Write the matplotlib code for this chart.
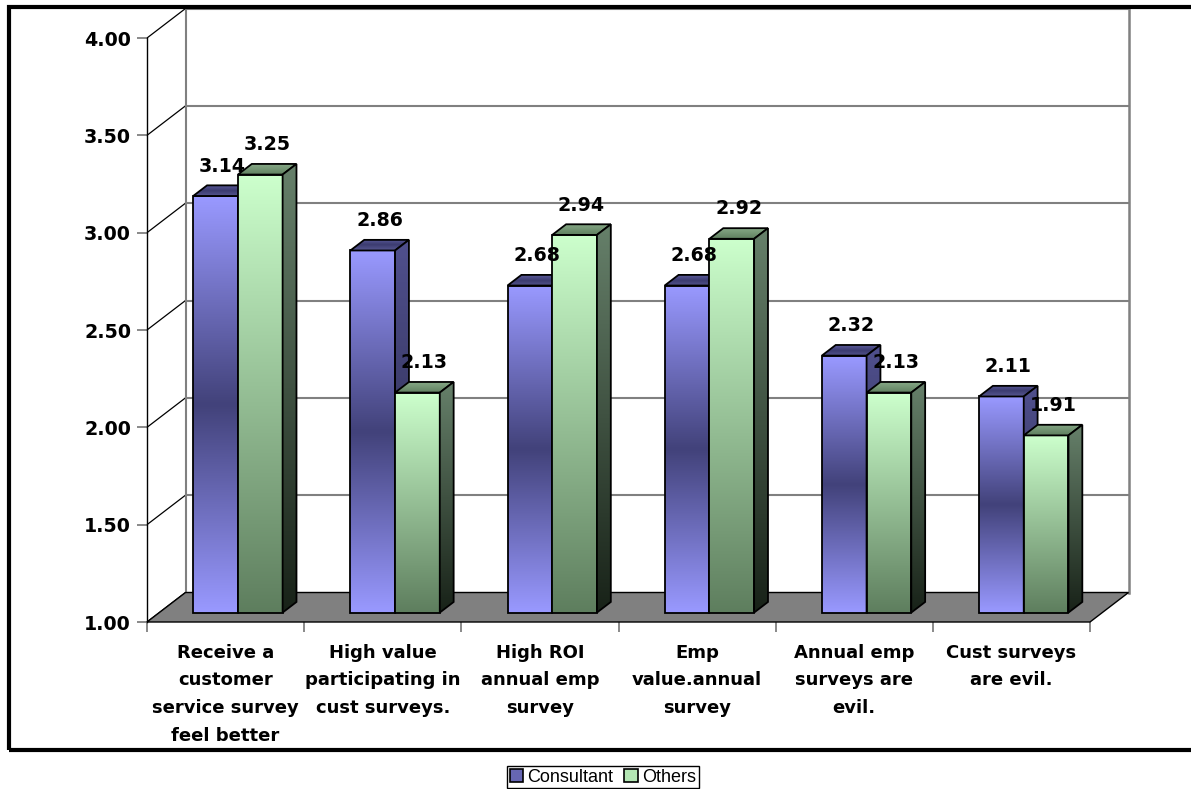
import numpy as np
from matplotlib import pyplot as plt
from matplotlib.patches import Polygon, Patch, Rectangle
from matplotlib.colors import to_rgb

# ---------------- data ----------------
categories = [
    "Receive a\ncustomer\nservice survey\nfeel better",
    "High value\nparticipating in\ncust surveys.",
    "High ROI\nannual emp\nsurvey",
    "Emp\nvalue.annual\nsurvey",
    "Annual emp\nsurveys are\nevil.",
    "Cust surveys\nare evil.",
]
consultant = [3.14, 2.86, 2.68, 2.68, 2.32, 2.11]
others = [3.25, 2.13, 2.94, 2.92, 2.13, 1.91]
series_names = ["Consultant", "Others"]
y_ticks = [1.00, 1.50, 2.00, 2.50, 3.00, 3.50, 4.00]

# depth vector of the fake 3d box, in data units (x per category, y per value)
DX = 0.245
DY = 0.1515
Z0, Z1 = 0.32, 0.68   # bar front / back depth
BW = 0.2845          # bar width

zc = [10]


def grad_colors(stops, n=128):
    pos = np.array([s[0] for s in stops])
    cols = np.array([to_rgb(s[1]) for s in stops])
    t = np.linspace(0, 1, n)
    out = np.zeros((n, 1, 3))
    for k in range(3):
        out[:, 0, k] = np.interp(t, pos, cols[:, k])
    return out


def face(ax, verts, stops):
    verts = np.array(verts)
    z = zc[0]
    zc[0] += 1
    poly = Polygon(verts, closed=True, facecolor="none", edgecolor="black",
                   linewidth=1.3, zorder=z + 0.5)
    ax.add_patch(poly)
    im = ax.imshow(grad_colors(stops),
                   extent=(verts[:, 0].min(), verts[:, 0].max(),
                           verts[:, 1].min(), verts[:, 1].max()),
                   origin="upper", aspect="auto", interpolation="bilinear",
                   zorder=z)
    im.set_clip_path(poly)


def bar3d(ax, x0, v, front, top, side):
    x1 = x0 + BW
    p = lambda x, y, z: (x + z * DX, y + z * DY)
    face(ax, [p(x0, 1, Z0), p(x1, 1, Z0), p(x1, v, Z0), p(x0, v, Z0)], front)
    face(ax, [p(x0, v, Z0), p(x1, v, Z0), p(x1, v, Z1), p(x0, v, Z1)], top)
    face(ax, [p(x1, 1, Z0), p(x1, 1, Z1), p(x1, v, Z1), p(x1, v, Z0)], side)


def plot_chart():
    fig = plt.figure(figsize=(11.91, 7.89), dpi=100)
    ax = fig.add_axes([147 / 1191, 167 / 789, 943 / 1191, 584 / 789])
    n = len(categories)
    grid_c = "#808080"

    # outer frame
    fig.add_artist(Rectangle((9 / 1191, 1 - 750 / 789), 1.2, (750 - 7) / 789,
                             transform=fig.transFigure, fill=False,
                             edgecolor="black", linewidth=3, clip_on=False))

    # back wall + left wall grid
    for v in y_ticks:
        ax.plot([DX, n + DX], [v + DY, v + DY], color=grid_c, lw=1.5,
                zorder=1, clip_on=False)
        ax.plot([0, DX], [v, v + DY], color="black", lw=0.9, zorder=1,
                clip_on=False)
    ax.plot([DX, DX], [1 + DY, 4 + DY], color=grid_c, lw=1.5, zorder=1,
            clip_on=False)
    ax.plot([n + DX, n + DX], [1 + DY, 4 + DY], color=grid_c, lw=1.8,
            zorder=1, clip_on=False)

    # floor
    ax.add_patch(Polygon([(0, 1), (n, 1), (n + DX, 1 + DY), (DX, 1 + DY)],
                         closed=True, facecolor="#808080", edgecolor="black",
                         linewidth=1.0, zorder=2, clip_on=False))

    blue_front = [(0, "#9999FF"), (0.5, "#42427A"), (1, "#9999FF")]
    blue_top = [(0, "#5A5A9A"), (0.5, "#3C3C70"), (1, "#55558F")]
    blue_side = [(0, "#50508E"), (1, "#22223C")]
    green_front = [(0, "#CCFFCC"), (1, "#5E7E5E")]
    green_top = [(0, "#86A886"), (1, "#5F7F5F")]
    green_side = [(0, "#66806A"), (1, "#182218")]

    for i in range(n):
        bar3d(ax, i + 0.5 - BW, consultant[i], blue_front, blue_top, blue_side)
        bar3d(ax, i + 0.5, others[i], green_front, green_top, green_side)

    # value labels
    for i in range(n):
        for j, vals in enumerate([consultant, others]):
            xc = i + 0.5 - BW + j * BW + BW / 2 + Z0 * DX
            yv = vals[i] + Z0 * DY
            ax.annotate("%.2f" % vals[i], (xc, yv), xytext=(5, 21.5),
                        textcoords="offset points", ha="center", va="center",
                        fontsize=13.7, fontweight="bold", zorder=200,
                        annotation_clip=False)

    ax.set_xlim(0, n)
    ax.set_ylim(1, 4)
    for s in ["top", "right"]:
        ax.spines[s].set_visible(False)
    ax.spines["left"].set_color("black")
    ax.spines["left"].set_linewidth(1.0)
    ax.spines["bottom"].set_visible(False)
    ax.patch.set_visible(False)

    ax.set_yticks(y_ticks)
    ax.set_yticklabels(["%.2f" % t for t in y_ticks], fontsize=13.7,
                       fontweight="bold")
    ax.tick_params(axis="y", color=grid_c, length=7.2, width=1.3, pad=4.3)

    ax.set_xticks([i + 0.5 for i in range(n)])
    ax.set_xticklabels(categories, fontsize=13, fontweight="bold",
                       linespacing=1.7)
    ax.set_xticks(range(n + 1), minor=True)
    ax.tick_params(axis="x", which="major", length=0, pad=15.5)
    ax.tick_params(axis="x", which="minor", color=grid_c, length=7.2,
                   width=1.3)

    handles = [Patch(facecolor="#6666B3", edgecolor="black", lw=1.2),
               Patch(facecolor="#B3E6B3", edgecolor="black", lw=1.2)]
    fig.legend(handles, series_names, loc="upper center",
               bbox_to_anchor=(603 / 1191, 23 / 789), ncol=2,
               prop={"family": "Liberation Sans", "size": 13},
               frameon=True, fancybox=False, edgecolor="black",
               framealpha=1.0, borderpad=0.15, handlelength=0.75,
               handleheight=0.75, handletextpad=0.25, columnspacing=0.6,
               borderaxespad=0.0)

    fig.savefig("out.png", dpi=100)


if __name__ == "__main__":
    plot_chart()
